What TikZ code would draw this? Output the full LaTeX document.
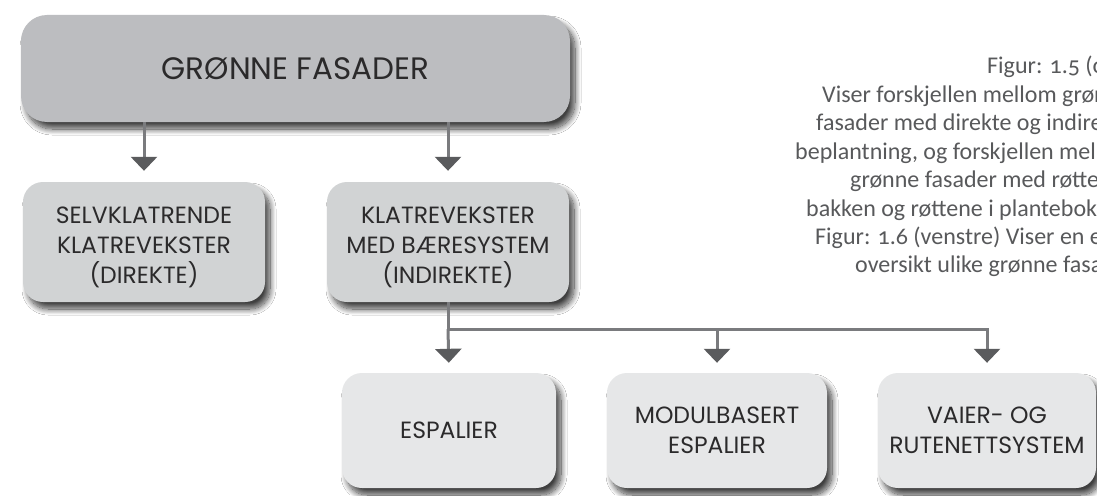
\documentclass[tikz,border=0pt]{standalone}
\usepackage{fontspec}
\usetikzlibrary{arrows.meta,shadows.blur}
\newfontfamily\boxfont{Poppins}
\newfontfamily\capfont[Numbers=OldStyle]{Carlito}
\definecolor{topfill}{HTML}{BCBDC0}
\definecolor{midfill}{HTML}{D1D3D4}
\definecolor{lowfill}{HTML}{E6E7E8}
\definecolor{boxtext}{HTML}{2B2A2B}
\definecolor{captext}{HTML}{58595B}
\definecolor{linkgrey}{HTML}{7A7B7E}
\definecolor{headgrey}{HTML}{5A5B5D}
\newcommand{\firstline}{\rule{0pt}{27pt}}
\tikzset{
  card/.style={rounded corners=20pt, inner sep=0pt, align=center,
    text=boxtext, font=\boxfont\fontsize{23.5}{30}\selectfont,
    blur shadow={shadow xshift=5pt, shadow yshift=-7pt,
      shadow blur radius=6pt, shadow blur steps=14, shadow opacity=75}},
  link/.style={draw=linkgrey, line width=3pt},
  arr/.style={link, -{Triangle[width=26pt,length=14pt,color=headgrey]},
    shorten >=11pt},
  capline/.style={anchor=base west, inner sep=0pt, text=captext,
    font=\capfont\fontsize{24}{28}\selectfont}
}
\begin{document}
\begin{tikzpicture}[x=1pt,y=-1pt]
  \useasboundingbox (0,0) rectangle (1097,495);
  \clip (0,0) rectangle (1097,495);
  \fill[white] (0,0) rectangle (1097,495);

  % main category
  \node[card, fill=topfill, rounded corners=26pt, minimum width=549pt,
        minimum height=107pt, font=\boxfont\fontsize{31}{34}\selectfont]
        (top) at (295.5,68.5) {GRØNNE FASADER};

  % climbing types
  \node[card, fill=midfill, minimum width=242pt, minimum height=120pt]
        (self) at (144,242) {\firstline SELVKLATRENDE\\KLATREVEKSTER\\(DIREKTE)};
  \node[card, fill=midfill, minimum width=242pt, minimum height=120pt]
        (supp) at (448,242) {\firstline KLATREVEKSTER\\MED BÆRESYSTEM\\(INDIREKTE)};

  % support systems
  \node[card, fill=lowfill, minimum width=214pt, minimum height=115pt]
        (esp) at (449,430.5) {ESPALIER};
  \node[card, fill=lowfill, minimum width=220pt, minimum height=115pt]
        (mod) at (717,430.5) {MODULBASERT\\ESPALIER};
  \node[card, fill=lowfill, minimum width=218pt, minimum height=115pt]
        (wire) at (987,430.5) {VAIER- OG\\RUTENETTSYSTEM};

  % connectors
  \draw[arr] (top.south -| self.north) -- (self.north);
  \draw[arr] (top.south -| supp.north) -- (supp.north);
  \coordinate (fork) at (supp.south |- 0,329);
  \draw[link] (supp.south) -- (fork);
  \draw[arr,shorten >=10pt] (fork) -- (esp.north);
  \draw[arr,shorten >=10pt] (fork) -| (mod.north);
  \draw[arr,shorten >=10pt] (fork) -| (wire.north);

  % caption
  \node[capline] (c1) at (987,74) {Figur: 1.5 (over)};
  \node[capline] (c2) at (822,102) {Viser forskjellen mellom grønne};
  \node[capline] (c3) at (816,130) {fasader med direkte og indirekte};
  \node[capline] (c4) at (795,159) {beplantning, og forskjellen mellom};
  \node[capline] (c5) at (850,187) {grønne fasader med røttene i};
  \node[capline] (c6) at (806,216) {bakken og røttene i plantebokser.};
  \node[capline] (c7) at (815,244) {Figur: 1.6 (venstre) Viser en enkel};
  \node[capline] (c8) at (855,272) {oversikt ulike grønne fasader.};
\end{tikzpicture}
\end{document}
